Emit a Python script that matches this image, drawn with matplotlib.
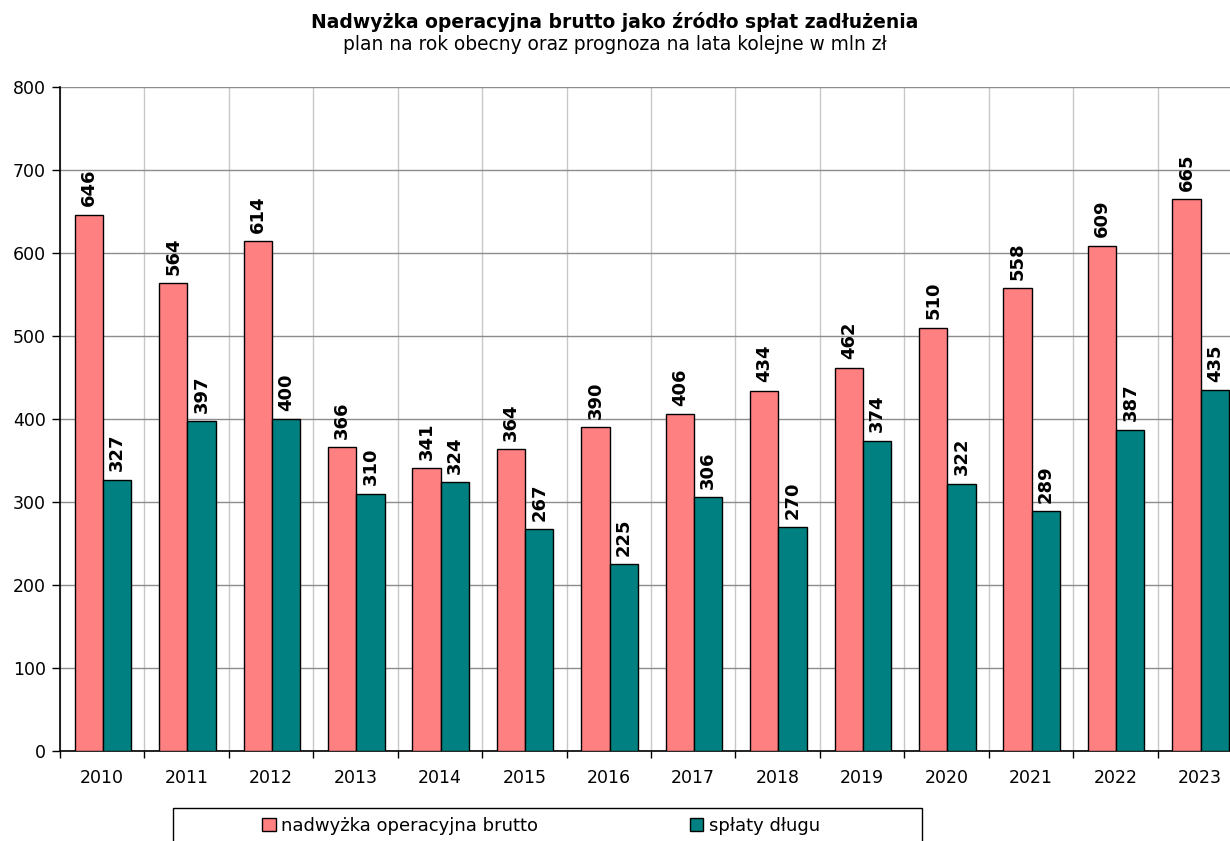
import numpy as np
import matplotlib.pyplot as plt
from matplotlib.patches import Rectangle

# -----------------------------
# DANE
# -----------------------------
lata = ["2010", "2011", "2012", "2013", "2014", "2015", "2016",
        "2017", "2018", "2019", "2020", "2021", "2022", "2023"]
nadwyzka = [646, 564, 614, 366, 341, 364, 390, 406, 434, 462, 510, 558, 609, 665]
splaty = [327, 397, 400, 310, 324, 267, 225, 306, 270, 374, 322, 289, 387, 435]

tytul = "Nadwyżka operacyjna brutto jako źródło spłat zadłużenia"
podtytul = "plan na rok obecny oraz prognoza na lata kolejne w mln zł"
etykiety = ["nadwyżka operacyjna brutto", "spłaty długu"]

# -----------------------------
# WYKRES
# -----------------------------
plt.rcParams['font.family'] = ['DejaVu Sans']

fig = plt.figure(figsize=(12.3, 8.41), dpi=100)
# os wychodzi lekko poza prawa krawedz, jak w oryginale
ax = fig.add_axes([60/1230, 1 - 751/841, (1242 - 60)/1230, (751 - 87)/841])

x = np.arange(len(lata))
w = 0.335

b1 = ax.bar(x - w/2 + 0.01, nadwyzka, w, color="#FF8080", edgecolor="black",
            linewidth=1, label=etykiety[0], zorder=3)
b2 = ax.bar(x + w/2 + 0.01, splaty, w, color="#008080", edgecolor="black",
            linewidth=1, label=etykiety[1], zorder=3)

for bars in (b1, b2):
    for r in bars:
        ax.annotate(f"{r.get_height():.0f}",
                    (r.get_x() + r.get_width()/2, r.get_height()),
                    xytext=(0, 6), textcoords="offset points",
                    rotation=90, ha="center", va="bottom",
                    fontsize=13, fontweight="bold", zorder=4)

ax.set_xlim(-0.5, len(lata) - 0.5)
ax.set_ylim(0, 800)
ax.set_yticks(range(0, 801, 100))
ax.set_xticks(x)
ax.set_xticklabels(lata)
ax.set_xticks(np.arange(-0.5, len(lata)), minor=True)

ax.tick_params(axis="x", which="major", length=0, pad=13, labelsize=12.5)
ax.tick_params(axis="x", which="minor", length=5, width=1, direction="out")
ax.tick_params(axis="y", length=6, width=1, labelsize=12.5, pad=4)

ax.grid(axis="y", which="major", color="#8c8c8c", linewidth=1, zorder=0)
ax.grid(axis="x", which="minor", color="#c8c8c8", linewidth=1, zorder=0)
ax.set_axisbelow(True)

for s in ("top", "right"):
    ax.spines[s].set_visible(False)
ax.spines["left"].set_linewidth(1.2)
ax.spines["bottom"].set_linewidth(1.2)

fig.text(0.5, 1 - 22/841, tytul, ha="center", va="center",
         fontsize=13.5, fontweight="bold")
fig.text(0.5, 1 - 45/841, podtytul, ha="center", va="center", fontsize=13.4)

# legenda
fig.patches.append(Rectangle((173/1230, -0.05), (922 - 173)/1230, 0.05 + (841 - 808)/841,
                             transform=fig.transFigure, facecolor="none",
                             edgecolor="black", linewidth=1))
fig.legend(handles=[b1, b2], labels=etykiety, loc="center left",
           bbox_to_anchor=(253/1230, 1 - 826/841), ncol=2, frameon=False,
           borderpad=0, handlelength=0.75, handleheight=0.75, handletextpad=0.3,
           columnspacing=8.4, fontsize=13)

fig.savefig("out.png", dpi=100)
